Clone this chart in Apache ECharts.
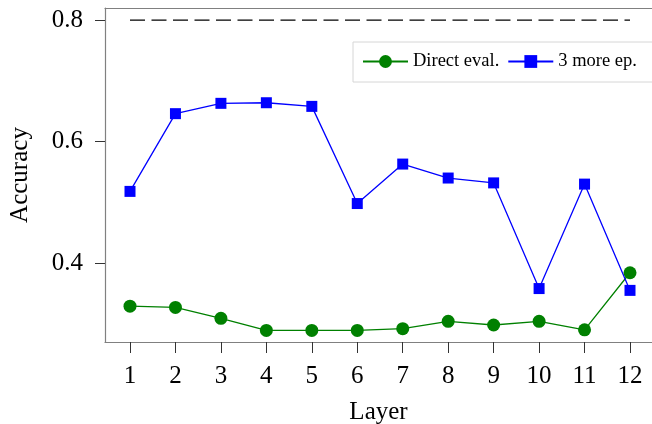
<!DOCTYPE html>
<html>
<head>
<meta charset="utf-8">
<script src="https://cdn.jsdelivr.net/npm/echarts@6/dist/echarts.min.js"></script>
<style>html,body{margin:0;padding:0;background:#fff}#c{width:652px;height:424px}</style>
</head>
<body>
<div id="c"></div>
<script>
const layers = [1,2,3,4,5,6,7,8,9,10,11,12];
const directEval = [0.329,0.327,0.309,0.289,0.289,0.289,0.292,0.304,0.298,0.304,0.290,0.384];
const moreEpochs = [0.518,0.646,0.663,0.664,0.658,0.498,0.563,0.540,0.532,0.358,0.530,0.355];
const referenceLevel = 0.8;
const yTicks = [0.4,0.6,0.8];

const font = '"Liberation Serif", "DejaVu Serif", serif';
const chart = echarts.init(document.getElementById('c'), null, {renderer:'canvas'});
chart.setOption({
  animation:false,
  backgroundColor:'#fff',
  grid:{left:105, right:0, top:8, bottom:82, containLabel:false, outerBoundsMode:'none'},
  legend:{
    left:353, top:42, width:330,
    padding:[10,17,11,9],
    borderColor:'#d6d6d6', borderWidth:1,
    itemWidth:45, itemHeight:16, itemGap:8,
    textStyle:{fontFamily:font, fontSize:18.5, color:'#000'},
    data:['Direct eval.','3 more ep.']
  },
  xAxis:[{
    type:'value', min:0.45, max:12.484,
    name:'Layer', nameLocation:'middle', nameGap:58,
    nameTextStyle:{fontFamily:font, fontSize:25, color:'#000'},
    axisLine:{show:true, onZero:false, lineStyle:{color:'#808080', width:1.2}},
    axisTick:{show:true, customValues:layers, length:11, lineStyle:{color:'#333', width:1}},
    axisLabel:{customValues:layers, margin:22, fontFamily:font, fontSize:25, color:'#000'},
    splitLine:{show:false}
  },{
    type:'value', position:'top', min:0.45, max:12.484,
    axisLine:{show:true, lineStyle:{color:'#808080', width:1.2}},
    axisTick:{show:false}, axisLabel:{show:false}, splitLine:{show:false}
  }],
  yAxis:{
    type:'value', min:0.27, max:0.82,
    name:'Accuracy', nameLocation:'middle', nameGap:72, nameRotate:90,
    nameTextStyle:{fontFamily:font, fontSize:25, color:'#000'},
    axisLine:{show:true, onZero:false, lineStyle:{color:'#808080', width:1.2}},
    axisTick:{show:true, customValues:yTicks, length:10, lineStyle:{color:'#333', width:1}},
    axisLabel:{customValues:yTicks, margin:22, fontFamily:font, fontSize:25, color:'#000',
      formatter:v=>v.toFixed(1)},
    splitLine:{show:false}
  },
  series:[
    {
      name:'ref', type:'line', data:[[layers[0],referenceLevel],[layers[layers.length-1],referenceLevel]],
      symbol:'none', lineStyle:{color:'#000', width:1.4, type:[15,6.5]}, silent:true
    },
    {
      name:'Direct eval.', type:'line', data:layers.map((l,i)=>[l,directEval[i]]),
      symbol:'circle', symbolSize:13,
      itemStyle:{color:'#008000'}, lineStyle:{color:'#008000', width:1.3}
    },
    {
      name:'3 more ep.', type:'line', data:layers.map((l,i)=>[l,moreEpochs[i]]),
      symbol:'rect', symbolSize:11,
      itemStyle:{color:'#0000ff'}, lineStyle:{color:'#0000ff', width:1.3}
    }
  ]
});
</script>
</body>
</html>
